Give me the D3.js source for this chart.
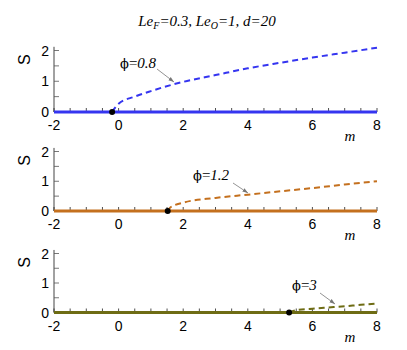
<!DOCTYPE html>
<html>
<head>
<meta charset="utf-8">
<script src="https://cdn.jsdelivr.net/npm/d3@7"></script>
<style>
  body { margin: 0; background: #fff; }
  text { font-family: "Liberation Sans", Arial, sans-serif; }
  .serif { font-family: "Liberation Serif", "Times New Roman", serif; font-style: italic; }
  .upright { font-family: "Liberation Serif", "Times New Roman", serif; }
  .phi { font-family: "DejaVu Serif", serif; }
</style>
</head>
<body>
<div id="graph"></div>
<script>
const W = 407, H = 350

// data
const phis = ['0.8', '1.2', '3']
const colors = ['#3535f0', '#c4701e', '#6e6c14']
const bifurcation = [-0.2, 1.52, 5.28]
const mUpper1 = [-0.2, -0.1, 0, 0.5, 1, 1.7, 2, 3, 4, 5, 6, 7, 8]
const sUpper1 = [0, 0.15, 0.27, 0.5, 0.68, 0.9, 0.98, 1.2, 1.42, 1.6, 1.77, 1.93, 2.09]
const mUpper2 = [1.52, 1.6, 2, 3, 4, 5, 6, 7, 8]
const sUpper2 = [0, 0.12, 0.28, 0.44, 0.55, 0.66, 0.77, 0.89, 1.0]
const mUpper3 = [5.28, 5.5, 6, 6.5, 7, 7.5, 8]
const sUpper3 = [0, 0.08, 0.13, 0.17, 0.21, 0.26, 0.3]
const xTicks = [-2, 0, 2, 4, 6, 8]
const yTicks = [0, 1, 2]

const uppers = [
  d3.zip(mUpper1, sUpper1),
  d3.zip(mUpper2, sUpper2),
  d3.zip(mUpper3, sUpper3)
]

// panel placement (pixel of S=0 and S=2)
const panels = [
  {y0: 112, y2: 50.5, lab: [120, 68], arr: [[157, 69], [174, 82]]},
  {y0: 211, y2: 151.5, lab: [193, 180], arr: [[233, 183], [248, 193]]},
  {y0: 312.5, y2: 253.5, lab: [292, 290], arr: [[320, 293], [335, 304]]}
]

const svg = d3.select('#graph').append('svg')
  .attr('width', W).attr('height', H)

const defs = svg.append('defs')
defs.append('marker')
  .attr('id', 'arrow')
  .attr('viewBox', '0 0 10 10')
  .attr('refX', 10).attr('refY', 5)
  .attr('markerWidth', 7).attr('markerHeight', 7)
  .attr('orient', 'auto')
  .append('path')
  .attr('d', 'M0,1.5 L10,5 L0,8.5 Z')
  .attr('fill', '#777')

const x = d3.scaleLinear().domain([-2, 8]).range([54, 377])

// title
const title = svg.append('text')
  .attr('class', 'serif')
  .attr('x', 207).attr('y', 26)
  .attr('text-anchor', 'middle')
  .attr('font-size', 15)
title.append('tspan').text('Le')
title.append('tspan').attr('font-size', 10).attr('dy', 3).text('F')
title.append('tspan').attr('dy', -3).text('=0.3, Le')
title.append('tspan').attr('font-size', 10).attr('dy', 3).text('O')
title.append('tspan').attr('dy', -3).text('=1, d=20')

panels.forEach((p, i) => {
  const y = d3.scaleLinear().domain([0, 2]).range([p.y0, p.y2])
  const g = svg.append('g')

  // y axis
  g.append('line')
    .attr('x1', x(-2)).attr('x2', x(-2))
    .attr('y1', y(0)).attr('y2', y(2.12))
    .attr('stroke', '#444').attr('stroke-width', 1)
  g.selectAll('.yt').data(d3.range(0, 2.01, 0.5)).join('line')
    .attr('x1', x(-2)).attr('x2', x(-2) + 5)
    .attr('y1', d => y(d)).attr('y2', d => y(d))
    .attr('stroke', '#555').attr('stroke-width', 0.8)
  g.selectAll('.yl').data(yTicks).join('text')
    .attr('x', x(-2) - 5).attr('y', d => y(d) + 5)
    .attr('text-anchor', 'end')
    .attr('font-size', 14)
    .text(d => d)

  // y label
  g.append('text')
    .attr('transform', `translate(30, ${y(1.7)}) rotate(-90)`)
    .attr('text-anchor', 'middle')
    .attr('font-size', 16)
    .text('S')

  // x ticks pointing up
  g.selectAll('.xt').data(d3.range(-2, 8.01, 0.5)).join('line')
    .attr('x1', d => x(d)).attr('x2', d => x(d))
    .attr('y1', y(0)).attr('y2', y(0) - 4)
    .attr('stroke', '#222').attr('stroke-width', 0.8)
  g.selectAll('.xl').data(xTicks).join('text')
    .attr('x', d => x(d)).attr('y', y(0) + 18)
    .attr('text-anchor', 'middle')
    .attr('font-size', 14)
    .text(d => d)
  g.append('text')
    .attr('class', 'serif')
    .attr('x', 350).attr('y', y(0) + 29)
    .attr('text-anchor', 'middle')
    .attr('font-size', 15)
    .text('m')

  // stable trivial branch
  g.append('line')
    .attr('x1', x(-2)).attr('x2', x(8))
    .attr('y1', y(0)).attr('y2', y(0))
    .attr('stroke', colors[i]).attr('stroke-width', 3)

  // unstable branch
  const line = d3.line().x(d => x(d[0])).y(d => y(d[1])).curve(d3.curveMonotoneX)
  g.append('path')
    .datum(uppers[i])
    .attr('d', line)
    .attr('fill', 'none')
    .attr('stroke', colors[i])
    .attr('stroke-width', 2)
    .attr('stroke-dasharray', '6,4')

  // bifurcation point
  g.append('circle')
    .attr('cx', x(bifurcation[i])).attr('cy', y(0))
    .attr('r', 3).attr('fill', '#000')

  // label + arrow
  const t = g.append('text')
    .attr('class', 'upright')
    .attr('x', p.lab[0]).attr('y', p.lab[1])
    .attr('font-size', 15)
  t.append('tspan').attr('class', 'phi').attr('font-size', 13).text('ϕ')
  t.append('tspan').text('=')
  t.append('tspan').attr('class', 'serif').text(phis[i])

  g.append('line')
    .attr('x1', p.arr[0][0]).attr('y1', p.arr[0][1])
    .attr('x2', p.arr[1][0]).attr('y2', p.arr[1][1])
    .attr('stroke', '#777').attr('stroke-width', 0.8)
    .attr('marker-end', 'url(#arrow)')
})
</script>
</body>
</html>
